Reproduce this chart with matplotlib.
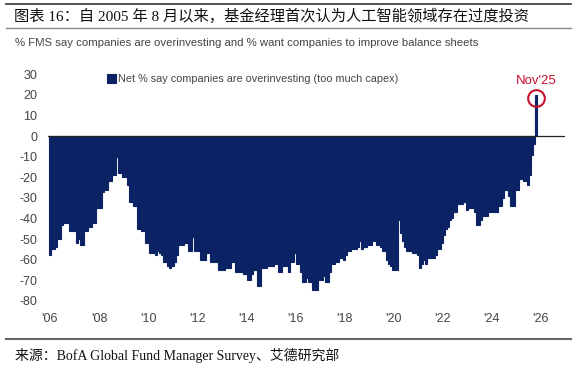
import matplotlib.pyplot as plt
import numpy as np
from matplotlib.lines import Line2D

plt.rcParams['font.family'] = ['Liberation Sans', 'DejaVu Sans']
plt.rcParams['axes.unicode_minus'] = False

# monthly net % of FMS saying companies are overinvesting, Jan 2006 - Nov 2025
v2006 = [-58, -55, -55, -54, -50, -50, -43, -42, -42, -42, -46, -46]
v2007 = [-46, -52, -50, -53, -53, -46, -46, -44, -44, -42, -42, -35]
v2008 = [-35, -35, -27, -26, -26, -22, -22, -19, -19, -10, -18, -18]
v2009 = [-20, -20, -24, -32, -32, -34, -34, -45, -45, -46, -46, -52]
v2010 = [-52, -57, -57, -57, -58, -56, -57, -58, -61, -61, -63, -64]
v2011 = [-63, -61, -58, -53, -53, -53, -52, -52, -56, -56, -49, -56]
v2012 = [-56, -56, -60, -60, -60, -57, -57, -61, -61, -61, -61, -65]
v2013 = [-65, -65, -64, -64, -64, -61, -61, -66, -66, -66, -66, -67]
v2014 = [-67, -70, -70, -67, -65, -65, -73, -73, -64, -64, -64, -63]
v2015 = [-63, -63, -62, -62, -66, -66, -63, -63, -63, -66, -61, -61]
v2016 = [-57, -62, -62, -66, -71, -71, -69, -71, -71, -75, -75, -75]
v2017 = [-70, -70, -68, -71, -71, -66, -62, -62, -61, -61, -59, -59]
v2018 = [-60, -58, -56, -56, -55, -55, -55, -54, -51, -55, -54, -54]
v2019 = [-53, -53, -51, -51, -53, -53, -54, -56, -56, -60, -62, -63]
v2020 = [-65, -65, -65, -41, -47, -51, -54, -56, -56, -56, -57, -57]
v2021 = [-58, -64, -62, -60, -62, -59, -59, -59, -59, -58, -55, -55]
v2022 = [-52, -48, -45, -44, -41, -40, -37, -37, -33, -33, -33, -32]
v2023 = [-36, -35, -35, -35, -37, -43, -43, -41, -39, -39, -39, -37]
v2024 = [-37, -37, -37, -37, -34, -34, -30, -26, -26, -29, -34, -34]
v2025 = [-26, -26, -21, -21, -22, -22, -24, -19, -9, -4, 20]

net_overinvest = (v2006 + v2007 + v2008 + v2009 + v2010 + v2011 + v2012 + v2013
                  + v2014 + v2015 + v2016 + v2017 + v2018 + v2019 + v2020
                  + v2021 + v2022 + v2023 + v2024 + v2025)

tick_years = list(range(2006, 2027, 2))
tick_labels = ["'" + str(y)[2:] for y in tick_years]
y_ticks = list(range(30, -90, -10))

NAVY = '#0b2265'
RED = '#c8102e'
GREY = '#444444'

x = 2006 + np.arange(len(net_overinvest)) / 12

fig = plt.figure(figsize=(5.77, 3.65), dpi=100)
ax = fig.add_axes([0.0824, 0.1647, 0.896, 0.643])

ax.bar(x, net_overinvest, width=1 / 12, color=NAVY, edgecolor=NAVY, linewidth=0.8,
       label='Net % say companies are overinvesting (too much capex)')
ax.axhline(0, color='#222222', lw=0.9, zorder=3)

# highlight latest reading
ax.plot(x[-1], net_overinvest[-1] - 1.5, 'o', ms=12, mfc='none', mec=RED, mew=1.5, zorder=4)
ax.annotate("Nov'25", xy=(x[-1], net_overinvest[-1]), xytext=(0, 6),
            textcoords='offset points', ha='center', va='bottom', color=RED, fontsize=9.5)

ax.set_xlim(2005.9, 2027.0)
ax.set_ylim(-82, 32)
ax.set_xticks(tick_years)
ax.set_xticklabels(tick_labels)
ax.set_yticks(y_ticks)
ax.tick_params(length=0, labelsize=9, colors=GREY)
ax.tick_params(axis='y', pad=7.5)
ax.tick_params(axis='x', pad=6)
for s in ax.spines.values():
    s.set_visible(False)

ax.legend(loc='center left', bbox_to_anchor=(0.115, 0.962), frameon=False, fontsize=7.8,
          handlelength=0.85, handleheight=0.9, handletextpad=0.15, borderpad=0,
          borderaxespad=0, labelcolor=GREY)

# header / footer
fig.add_artist(Line2D([0.01, 0.99], [1 - 3.7 / 365] * 2, color='#333333', lw=1.2))
fig.text(14 / 577, 1 - 16.6 / 365, '图表 16：自 2005 年 8 月以来，基金经理首次认为人工智能领域存在过度投资',
         family=['Liberation Serif', 'Noto Sans CJK SC'], fontsize=11, va='center', ha='left',
         color='#111111')
fig.add_artist(Line2D([0.01, 0.99], [1 - 27.7 / 365] * 2, color='#888888', lw=1.0))
fig.text(15 / 577, 1 - 43.5 / 365,
         '% FMS say companies are overinvesting and % want companies to improve balance sheets',
         fontsize=8.2, va='center', ha='left', color=GREY)
fig.add_artist(Line2D([0.01, 0.99], [1 - 339 / 365] * 2, color='#666666', lw=1.5))
fig.text(15 / 577, 1 - 355 / 365, '来源：BofA Global Fund Manager Survey、艾德研究部',
         family=['Liberation Serif', 'Noto Sans CJK SC'], fontsize=10, va='center', ha='left',
         color='#111111')

fig.savefig('out.png', dpi=100)
